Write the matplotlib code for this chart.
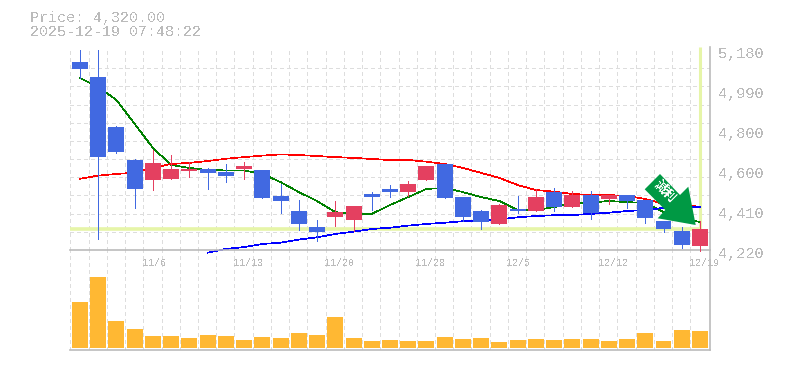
import matplotlib
matplotlib.use('Agg')
import matplotlib.pyplot as plt
from matplotlib.patches import Polygon
from matplotlib.transforms import Affine2D, ScaledTranslation

# candles, oldest first
opens = [5122, 5050, 4810, 4652, 4557, 4561, 4599, 4609, 4596, 4610, 4604, 4479, 4407, 4330, 4378, 4364, 4489, 4513,
         4498, 4556, 4633, 4474, 4407, 4345, 4417, 4407, 4498, 4426, 4484, 4465, 4484, 4460, 4359, 4311, 4239]
highs = [5180, 5180, 4815, 4657, 4700, 4676, 4640, 4614, 4633, 4642, 4604, 4537, 4460, 4364, 4455, 4431, 4498, 4532,
         4551, 4623, 4633, 4474, 4412, 4441, 4479, 4513, 4518, 4503, 4503, 4484, 4484, 4460, 4359, 4330, 4359]
lows = [5046, 4274, 4686, 4422, 4508, 4561, 4570, 4514, 4546, 4561, 4471, 4398, 4316, 4265, 4335, 4311, 4412, 4474,
        4479, 4556, 4470, 4359, 4321, 4345, 4398, 4407, 4407, 4426, 4369, 4441, 4422, 4350, 4306, 4230, 4215]
closes = [5089, 4668, 4692, 4514, 4638, 4609, 4609, 4590, 4575, 4623, 4471, 4457, 4346, 4306, 4402, 4431, 4474, 4498,
          4537, 4623, 4470, 4378, 4354, 4436, 4407, 4474, 4426, 4484, 4398, 4484, 4455, 4374, 4321, 4244, 4320]

# moving averages
ma_green = [5046, 5002, 4940, 4825, 4710, 4628, 4614, 4604, 4602, 4602, 4585, 4546, 4498, 4455, 4402, 4393, 4393, 4436,
            4474, 4513, 4518, 4498, 4474, 4455, 4412, 4412, 4426, 4446, 4448, 4455, 4450, 4446, 4402, 4374, 4354]
ma_red = [4562, 4577, 4585, 4591, 4614, 4633, 4638, 4647, 4658, 4666, 4673, 4679, 4676, 4671, 4666, 4662, 4657, 4652,
          4652, 4644, 4633, 4614, 4590, 4566, 4532, 4508, 4500, 4489, 4484, 4484, 4479, 4465, 4441, 4431, 4429]
ma_blue = [4207, 4225, 4234, 4249, 4255, 4270, 4281, 4297, 4308, 4321, 4327, 4337, 4345, 4351, 4358, 4361, 4367, 4377,
           4383, 4387, 4388, 4393, 4399, 4407, 4412, 4422, 4424, 4426]
ma_blue_start = 7

volumes = [46, 71, 27, 19, 12, 12, 10, 13, 12, 8, 11, 10, 15, 13, 31, 10, 7, 8,
           7, 7, 11, 9, 10, 6, 8, 9, 8, 9, 9, 7, 9, 15, 7, 18, 17]

date_pos = [4, 9, 14, 19, 24, 29, 34]
date_labels = ['11/6', '11/13', '11/20', '11/28', '12/5', '12/12', '12/19']
price_ticks = [5180, 4988, 4796, 4604, 4412, 4220]
price_labels = ['5,180', '4,990', '4,800', '4,600', '4,410', '4,220']
last_price = 4320

W, H = 785, 370
UP = '#E44060'
DOWN = '#4169E1'
GRAY = '#BBBBBB'
GRID = '#DDDDDD'
PALE = '#E6F5A8'

plt.rcParams['text.antialiased'] = False
plt.rcParams['font.family'] = ['Liberation Mono', 'Noto Sans CJK JP']

fig = plt.figure(figsize=(W / 100, H / 100), dpi=100, facecolor='white')
vol = fig.add_axes([70 / W, 1 - 350 / H, 640 / W, 100 / H])
ax = fig.add_axes([70 / W, 1 - 250 / H, 640 / W, 200 / H])

xlim = (-0.548, 34.55)
n = len(closes)
xs = list(range(n))
grid_x = [i - 0.53 for i in xs]

for a in (ax, vol):
    a.set_xlim(*xlim)
    a.set_xticks(grid_x, minor=True)
    a.grid(True, which='minor', axis='x', color=GRID, lw=0.72, ls=(0, (3, 3)), antialiased=False)
    a.tick_params(which='both', length=0)
    a.set_axisbelow(True)
    for s in ['left', 'top']:
        a.spines[s].set_visible(False)
    for s in ['right', 'bottom']:
        a.spines[s].set_color(GRAY)
        a.spines[s].set_linewidth(1.2)

# price panel
ax.set_ylim(4220, 5180)
ax.set_yticks([4220 + 960 / 11 * k for k in range(12)], minor=True)
ax.grid(True, which='minor', axis='y', color=GRID, lw=0.72, ls=(0, (3, 3)), antialiased=False)
ax.yaxis.tick_right()
ax.set_yticks(price_ticks)
ax.set_yticklabels(price_labels, fontsize=11, color=GRAY)
ax.tick_params(axis='y', which='major', pad=6)
down2 = ScaledTranslation(0, -2 / 72, fig.dpi_scale_trans)
for t in ax.get_yticklabels():
    t.set_transform(t.get_transform() + down2)

# date labels start 11 px left of their candle
ax.set_xticks([p - 0.6 for p in date_pos])
ax.set_xticklabels(date_labels, fontsize=7.2, color=GRAY, ha='left')
ax.tick_params(axis='x', which='major', pad=6)

ax.axhline(last_price, xmax=(xs[-1] - xlim[0]) / (xlim[1] - xlim[0]), color=PALE, lw=2.6, zorder=1.5)
ax.vlines(xs[-1], last_price, 5195, color=PALE, lw=2.2, zorder=1.5, clip_on=False)
ax.spines['right'].set_bounds(4220, 5195)

ax.plot(xs, ma_green, color='#008000', lw=0.5, antialiased=False, zorder=2)
ax.plot(xs, ma_red, color='#FF0000', lw=0.5, antialiased=False, zorder=2)
ax.plot(xs[ma_blue_start:], ma_blue, color='#0000FF', lw=0.5, antialiased=False, zorder=2, clip_on=False)

colors = [UP if c >= o else DOWN for o, c in zip(opens, closes)]
ax.vlines(xs, lows, highs, colors=colors, lw=0.5, antialiased=False, zorder=3, clip_on=False)
ax.bar(xs, [abs(c - o) for o, c in zip(opens, closes)], bottom=[min(o, c) for o, c in zip(opens, closes)],
       width=0.877, color=colors, antialiased=False, zorder=3)

# volume panel
vol.bar(xs, volumes, width=0.877, color='#FFB833', antialiased=False, zorder=3)
vol.set_ylim(-2, 98)
vol.set_xticks([])
vol.set_yticks([])

# trend arrow, figure pixels from top left
to_px = Affine2D().scale(1, -1).translate(0, H)
arrow = Polygon([(660, 174), (644.7, 189.3), (665.3, 210), (657.7, 218.3), (695.7, 225), (688.3, 186.7), (680, 195)],
                closed=True, facecolor='#009944', edgecolor='none', transform=to_px, zorder=6, clip_on=False)
fig.add_artist(arrow)
fig.text(664.5 / W, 1 - 191.5 / H, '減利', color='white', fontsize=9, rotation=-45, rotation_mode='anchor',
         ha='center', va='center', fontweight='bold', zorder=7, family=['Noto Sans CJK JP'])

fig.text(30 / W, 1 - 18 / H, 'Price: 4,320.00', color=GRAY, fontsize=10.85, va='center')
fig.text(30 / W, 1 - 32.5 / H, '2025-12-19 07:48:22', color=GRAY, fontsize=10.85, va='center')

fig.savefig('out.png', dpi=100)
